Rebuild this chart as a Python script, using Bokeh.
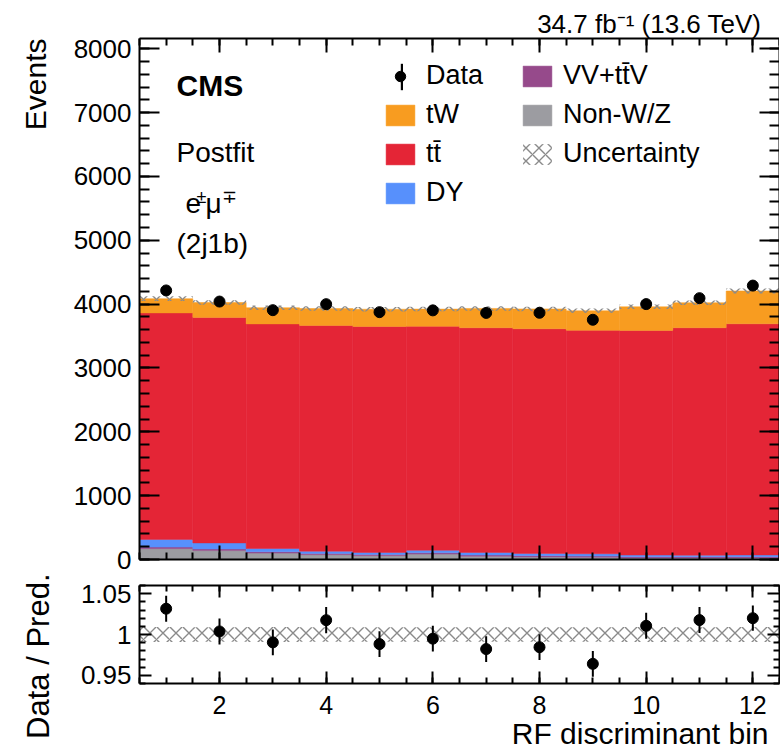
import math
import numpy as np
from bokeh.plotting import figure
from bokeh.models import (LinearAxis, SingleIntervalTicker, FixedTicker, Range1d, Label, Title,
                          Legend, LegendItem, CustomJSTickFormatter)
from bokeh.layouts import column
from bokeh.embed import file_html
from bokeh.resources import INLINE

# ---------------- data ----------------
bins = [1, 2, 3, 4, 5, 6, 7, 8, 9, 10, 11, 12]
non_wz = [170, 140, 100, 75, 60, 85, 50, 40, 35, 22, 22, 22]
vv_ttv = [25, 25, 22, 20, 20, 20, 20, 20, 20, 20, 20, 22]
dy = [120, 95, 50, 35, 30, 40, 40, 35, 35, 28, 26, 28]
ttbar = [3547, 3532, 3518, 3535, 3540, 3507, 3520, 3519, 3500, 3518, 3562, 3620]
tw = [223, 233, 253, 265, 270, 270, 302, 311, 305, 370, 392, 514]
data = [4214, 4040, 3905, 3999, 3874, 3902, 3862, 3864, 3755, 4000, 4093, 4290]
data_err = [65, 64, 62, 63, 62, 62, 62, 62, 61, 63, 64, 65]
unc = [37, 36, 36, 35, 35, 35, 35, 35, 35, 36, 36, 38]
ratio_ticks = [0.95, 1.0, 1.05]
ratio_minor = [0.94, 0.96, 0.97, 0.98, 0.99, 1.01, 1.02, 1.03, 1.04, 1.06]

C_TW = "#f89c20"
C_TT = "#e42536"
C_DY = "#5790fc"
C_VV = "#964a8b"
C_NON = "#9c9ca1"
C_HATCH = "#8a8a8a"
FONT = "Liberation Sans"

# ---------------- geometry (page pixels) ----------------
FX0, FW = 136, 640          # frame left / width
MT, MH = 38, 521            # main frame top / height
RT, RH = 585, 98            # ratio frame top / height
X0, X1 = 0.5, 12.5
Y1 = 8160
R0, R1 = 0.94, 1.06
MAIN_BOTTOM = 15

def mx(px):
    return X0 + (px - FX0) / FW * (X1 - X0)

def my(py):
    return (MT + MH - py) / MH * Y1

x = np.array(bins, dtype=float)
left = x - 0.5
right = x + 0.5
xr = Range1d(X0, X1)

def style_axis(ax, major_in, minor_in, labels, size="26px", standoff=8):
    ax.axis_line_width = 2
    ax.axis_line_color = "black"
    ax.major_tick_in = major_in
    ax.major_tick_out = 0
    ax.minor_tick_in = minor_in
    ax.minor_tick_out = 0
    ax.major_tick_line_width = 2
    ax.minor_tick_line_width = 2
    ax.major_tick_line_color = "black"
    ax.minor_tick_line_color = "black"
    if labels:
        ax.major_label_text_font = FONT
        ax.major_label_text_font_size = size
        ax.major_label_text_color = "black"
        ax.major_label_standoff = standoff
    else:
        ax.major_label_text_font_size = "0px"
        ax.major_label_standoff = 0

def title(fig, side, text, size, align, valign, offset, standoff):
    fig.add_layout(Title(text=text, align=align, vertical_align=valign, offset=offset,
                         standoff=standoff, text_font=FONT, text_font_size=size,
                         text_font_style="normal", text_color="black"), side)

# ---------------- main figure ----------------
p = figure(frame_width=FW, frame_height=MH, x_range=xr, y_range=Range1d(0, Y1),
           output_backend="svg", toolbar_location=None,
           x_axis_type=None, y_axis_type=None,
           min_border_left=FX0, min_border_right=2, min_border_top=MT,
           min_border_bottom=MAIN_BOTTOM)
p.outline_line_color = None
p.xgrid.visible = False
p.ygrid.visible = False

for loc, tick, maj, mnr, labs in [
        ("below", SingleIntervalTicker(interval=2, num_minor_ticks=4), 14, 7, False),
        ("above", SingleIntervalTicker(interval=2, num_minor_ticks=4), 14, 7, False),
        ("left", SingleIntervalTicker(interval=1000, num_minor_ticks=5), 20, 10, True),
        ("right", SingleIntervalTicker(interval=1000, num_minor_ticks=5), 20, 10, False)]:
    ax = LinearAxis(ticker=tick)
    style_axis(ax, maj, mnr, labs)
    p.add_layout(ax, loc)

title(p, "above", "34.7 fb\u207b\u00b9 (13.6 TeV)", "26px", "right", "bottom", 18, 0)
title(p, "left", "Events", "30px", "right", "top", 0, 33)

bottom = np.zeros(len(bins))
rends = {}
for vals, col, name in [(non_wz, C_NON, "non"), (vv_ttv, C_VV, "vv"), (dy, C_DY, "dy"),
                        (ttbar, C_TT, "tt"), (tw, C_TW, "tw")]:
    top = bottom + np.array(vals, dtype=float)
    rends[name] = p.quad(left=left, right=right, bottom=bottom, top=top,
                         fill_color=col, line_color=col, line_width=0.5)
    bottom = top
total = bottom
unc_a = np.array(unc, dtype=float)
rends["unc"] = p.quad(left=left, right=right, bottom=total - unc_a, top=total + unc_a,
                      fill_alpha=0, line_color=None, hatch_pattern="x",
                      hatch_color=C_HATCH, hatch_scale=13, hatch_weight=1.4)

d = np.array(data, dtype=float)
de = np.array(data_err, dtype=float)
p.segment(x0=x, y0=d - de, x1=x, y1=d + de, line_color="black", line_width=2)
r_pt = p.scatter(x=x, y=d, size=11, marker="circle", fill_color="black", line_color="black")
# error-bar region, used only as the vertical bar of the "Data" legend symbol
# (muted, i.e. fully transparent, in the plot itself)
r_bar = p.quad(left=x, right=x, bottom=d - de, top=d + de, fill_color="black",
               line_color=None, muted_alpha=0)
r_bar.muted = True

SPACING = 8
leg_kw = dict(glyph_width=36, glyph_height=26, label_height=26, label_standoff=8,
              spacing=SPACING, padding=0, margin=0, border_line_color=None,
              background_fill_alpha=0, label_text_font=FONT, label_text_font_size="27px",
              label_text_color="black")
leg1 = Legend(items=[LegendItem(label="Data", renderers=[r_pt]),
                     LegendItem(label="tW", renderers=[rends["tw"]]),
                     LegendItem(label="tt\u0304", renderers=[rends["tt"]]),
                     LegendItem(label="DY", renderers=[rends["dy"]])],
              location=(379 - FX0, MT + MH - 208), **leg_kw)
leg2 = Legend(items=[LegendItem(label="VV+tt\u0304V", renderers=[rends["vv"]]),
                     LegendItem(label="Non-W/Z", renderers=[rends["non"]]),
                     LegendItem(label="Uncertainty", renderers=[rends["unc"]])],
              location=(516 - FX0, MT + MH - 169), **leg_kw)
BW, BH = 3, 33
leg_bar = Legend(items=[LegendItem(label=" ", renderers=[r_bar])],
                 glyph_width=BW, glyph_height=BH, label_height=BH, label_width=0,
                 label_standoff=0, spacing=0, padding=0, margin=0, border_line_color=None,
                 background_fill_alpha=0, label_text_font_size="1px",
                 location=(398 - BW / 2 - FX0, MT + MH - (76 + BH / 2)))
p.add_layout(leg_bar)
p.add_layout(leg1)
p.add_layout(leg2)

def lab(px, py, text, size, style="normal"):
    p.add_layout(Label(x=mx(px), y=my(py), text=text, text_font=FONT,
                       text_font_size=size, text_font_style=style, text_align="left",
                       text_baseline="middle", text_color="black"))

lab(173, 85, "CMS", "30px", style="bold")
lab(173, 152, "Postfit", "28px")
lab(182, 203, "e", "28px")
lab(193, 196, "\u00b1", "18px")
lab(202, 203, "\u03bc", "28px")
lab(218, 196, "\u2213", "18px")
lab(173, 243, "(2j1b)", "28px")

# ---------------- ratio figure ----------------
q = figure(frame_width=FW, frame_height=RH, x_range=xr, y_range=Range1d(R0, R1),
           output_backend="svg", toolbar_location=None,
           x_axis_type=None, y_axis_type=None,
           min_border_left=FX0, min_border_right=2,
           min_border_top=RT - (MT + MH + MAIN_BOTTOM), min_border_bottom=70)
q.outline_line_color = None
q.xgrid.visible = False
q.ygrid.visible = False

fmt = CustomJSTickFormatter(code="return String(Math.round(tick*100)/100)")
for loc, tick, maj, mnr, labs, size, so in [
        ("below", SingleIntervalTicker(interval=2, num_minor_ticks=4), 12, 6, True, "25px", 12),
        ("above", SingleIntervalTicker(interval=2, num_minor_ticks=4), 12, 6, False, "", 0),
        ("left", FixedTicker(ticks=ratio_ticks, minor_ticks=ratio_minor), 12, 6, True, "26px", 8),
        ("right", FixedTicker(ticks=ratio_ticks, minor_ticks=ratio_minor), 12, 6, False, "", 0)]:
    ax = LinearAxis(ticker=tick)
    if loc == "left":
        ax.formatter = fmt
    style_axis(ax, maj, mnr, labs, size=size or "26px", standoff=so)
    q.add_layout(ax, loc)

title(q, "left", "Data / Pred.", "31px", "right", "top", -12, 40)
title(q, "below", "RF discriminant bin", "30px", "right", "top", 11, 0)

tot = np.array(total)
q.quad(left=left, right=right, bottom=1 - unc_a / tot, top=1 + unc_a / tot,
       fill_alpha=0, line_color=None, hatch_pattern="x", hatch_color=C_HATCH,
       hatch_scale=13, hatch_weight=1.4)
ratio = d / tot
ratio_err = de / tot
q.segment(x0=x, y0=ratio - ratio_err, x1=x, y1=ratio + ratio_err, line_color="black",
          line_width=2)
q.scatter(x=x, y=ratio, size=11, marker="circle", fill_color="black", line_color="black")

layout = column(p, q, spacing=0)
open("out.html", "w").write(file_html(layout, INLINE))
